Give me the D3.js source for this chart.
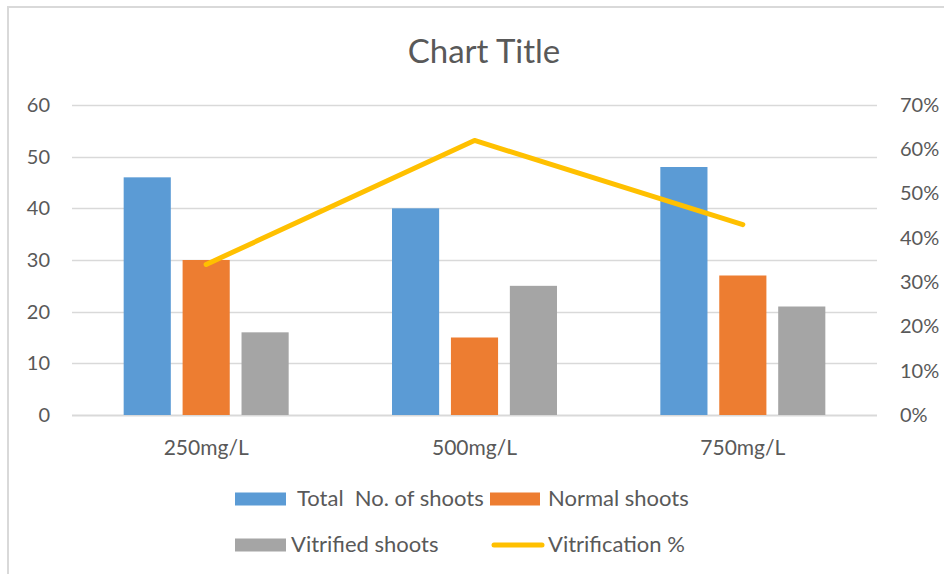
<!DOCTYPE html>
<html><head><meta charset="utf-8">
<script src="https://cdn.jsdelivr.net/npm/d3@7"></script>
<style>body{margin:0;background:#fff}svg{display:block}text{font-family:Lato,"Open Sans",sans-serif;fill:#595959;white-space:pre}</style>
</head><body><svg id="c" width="944" height="574"></svg>
<script>
const categories = ["250mg/L","500mg/L","750mg/L"];
const totalShoots = [46,40,48];
const normalShoots = [30,15,27];
const vitrifiedShoots = [16,25,21];
const vitrificationPct = [0.34,0.62,0.43];
const leftTicks = [0,10,20,30,40,50,60];
const rightTicks = [0,0.1,0.2,0.3,0.4,0.5,0.6,0.7];
const seriesNames = ["Total  No. of shoots","Normal shoots","Vitrified shoots","Vitrification %"];
const colors = ["#5B9BD5","#ED7D31","#A5A5A5","#FFC000"];

const svg = d3.select("#c");
svg.append("path").attr("d","M8,574 L8,7 L944,7").attr("fill","none").attr("stroke","#d9d9d9").attr("stroke-width",2);

const L=72,R=877,T=105,B=415;
const x = d3.scaleBand().domain(categories).range([L,R]);
const xs = d3.scaleBand().domain([0,1,2]).range([0,165]).paddingInner(0.2);
const yL = d3.scaleLinear().domain([0,60]).range([B,T]);
const yR = d3.scaleLinear().domain([0,0.7]).range([B,T]);

svg.append("text").attr("x",484).attr("y",63).attr("text-anchor","middle").attr("font-size",33).text("Chart Title");

svg.append("g").selectAll("line").data(leftTicks).join("line")
  .attr("x1",L).attr("x2",R).attr("y1",d=>Math.round(yL(d))+0.5).attr("y2",d=>Math.round(yL(d))+0.5)
  .attr("stroke","#d9d9d9").attr("stroke-width",d=>d===0?2:1.5);

const gl = svg.append("g").attr("transform",`translate(${L},0)`)
  .call(d3.axisLeft(yL).tickValues(leftTicks).tickSize(0).tickPadding(22));
gl.select(".domain").remove();
gl.selectAll("text").attr("font-size",20).style("font-family","Lato").attr("fill","#595959");

const gr = svg.append("g").attr("transform",`translate(${R},0)`)
  .call(d3.axisRight(yR).tickValues(rightTicks).tickSize(0).tickPadding(23).tickFormat(d3.format(".0%")));
gr.select(".domain").remove();
gr.selectAll("text").attr("font-size",20).style("font-family","Lato").attr("fill","#595959");

svg.append("g").selectAll("text").data(categories).join("text")
  .attr("x",d=>x(d)+x.bandwidth()/2).attr("y",455).attr("text-anchor","middle").attr("font-size",21).text(d=>d);

const series=[totalShoots,normalShoots,vitrifiedShoots];
series.forEach((s,i)=>{
  svg.append("g").selectAll("rect").data(categories).join("rect")
    .attr("x",(d)=>x(d)+x.bandwidth()/2-82.5+xs(i)).attr("width",xs.bandwidth())
    .attr("y",(d,j)=>yL(s[j])).attr("height",(d,j)=>yL(0)-yL(s[j]))
    .attr("fill",colors[i]);
});

const line = d3.line().x((d,i)=>x(categories[i])+x.bandwidth()/2).y(d=>yR(d));
svg.append("path").datum(vitrificationPct).attr("d",line).attr("fill","none")
  .attr("stroke",colors[3]).attr("stroke-width",5).attr("stroke-linecap","round").attr("stroke-linejoin","round");

const leg = [
  {i:0,x:235,y:499,tx:297},
  {i:1,x:490,y:499,tx:548},
  {i:2,x:235,y:545,tx:291},
  {i:3,x:490,y:545,tx:548}
];
leg.forEach(l=>{
  if(l.i<3){
    svg.append("rect").attr("x",l.x).attr("y",l.y-6.5).attr("width",l.i===1?50:51).attr("height",13).attr("fill",colors[l.i]);
  } else {
    svg.append("line").attr("x1",l.x+4).attr("x2",l.x+52).attr("y1",l.y).attr("y2",l.y)
      .attr("stroke",colors[3]).attr("stroke-width",5).attr("stroke-linecap","round");
  }
  svg.append("text").attr("x",l.tx).attr("y",l.y+7).attr("font-size",22).attr("xml:space","preserve").text(seriesNames[l.i]);
});
</script></body></html>
